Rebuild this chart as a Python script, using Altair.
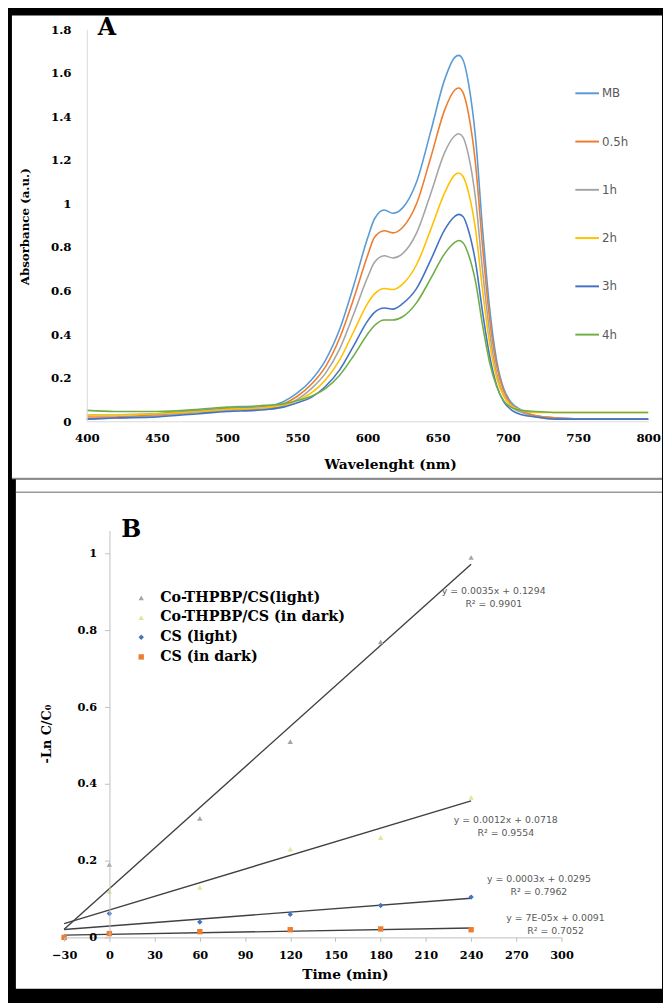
import altair as alt
import pandas as pd

SERIF = "DejaVu Serif"
SANS = "DejaVu Sans"

# ---------------- Panel A : UV-vis spectra ----------------
wavelength = [400, 420, 450, 480, 500, 520, 530, 540, 550, 560, 570, 580, 590, 600, 605, 612,
              618, 625, 635, 645, 655, 662, 665, 668, 672, 677, 682, 687, 692, 697, 702, 710,
              720, 735, 760, 800]
abs_mb = [0.03, 0.03, 0.035, 0.05, 0.06, 0.065, 0.07, 0.09, 0.13, 0.19, 0.28, 0.42, 0.62, 0.84, 0.93, 0.97,
          0.955, 0.98, 1.10, 1.33, 1.57, 1.67, 1.68, 1.66, 1.55, 1.30, 0.88, 0.52, 0.28, 0.15, 0.09, 0.05,
          0.025, 0.015, 0.01, 0.01]
abs_05h = [0.02, 0.02, 0.03, 0.045, 0.055, 0.06, 0.065, 0.08, 0.115, 0.17, 0.25, 0.38, 0.56, 0.76, 0.845, 0.875,
           0.865, 0.89, 1.00, 1.21, 1.43, 1.52, 1.53, 1.51, 1.41, 1.18, 0.80, 0.47, 0.255, 0.14, 0.08, 0.045,
           0.025, 0.015, 0.01, 0.01]
abs_1h = [0.01, 0.015, 0.025, 0.04, 0.05, 0.055, 0.06, 0.07, 0.10, 0.15, 0.22, 0.33, 0.49, 0.66, 0.73, 0.76,
          0.75, 0.77, 0.865, 1.045, 1.235, 1.31, 1.32, 1.305, 1.22, 1.02, 0.69, 0.41, 0.22, 0.12, 0.07, 0.04,
          0.02, 0.01, 0.01, 0.01]
abs_2h = [0.03, 0.03, 0.035, 0.045, 0.055, 0.06, 0.065, 0.075, 0.095, 0.13, 0.19, 0.28, 0.41, 0.54, 0.585, 0.61,
          0.605, 0.63, 0.72, 0.88, 1.05, 1.13, 1.14, 1.125, 1.05, 0.88, 0.60, 0.36, 0.20, 0.115, 0.075, 0.05,
          0.04, 0.04, 0.04, 0.04]
abs_3h = [0.01, 0.015, 0.02, 0.035, 0.045, 0.05, 0.055, 0.065, 0.085, 0.11, 0.16, 0.235, 0.345, 0.46, 0.50, 0.52,
          0.515, 0.54, 0.61, 0.74, 0.88, 0.94, 0.95, 0.94, 0.875, 0.73, 0.50, 0.30, 0.165, 0.09, 0.055, 0.03,
          0.02, 0.01, 0.01, 0.01]
abs_4h = [0.05, 0.045, 0.045, 0.055, 0.065, 0.07, 0.075, 0.08, 0.095, 0.115, 0.15, 0.21, 0.30, 0.40, 0.44, 0.465,
          0.465, 0.48, 0.545, 0.655, 0.77, 0.82, 0.83, 0.82, 0.765, 0.64, 0.44, 0.27, 0.16, 0.095, 0.065, 0.05,
          0.045, 0.04, 0.04, 0.04]
samples = ["MB", "0.5h", "1h", "2h", "3h", "4h"]
sample_colors = ["#5b9bd5", "#ed7d31", "#a5a5a5", "#ffc000", "#4472c4", "#70ad47"]
abs_ticks = [0, 0.2, 0.4, 0.6, 0.8, 1, 1.2, 1.4, 1.6, 1.8]
wl_ticks = [400, 450, 500, 550, 600, 650, 700, 750, 800]

# ---------------- Panel B : kinetics ----------------
time_min = [-30, 0, 60, 120, 180, 240]
lnc_co_light = [0, 0.19, 0.31, 0.51, 0.77, 0.99]
lnc_co_dark = [0, 0.12, 0.13, 0.23, 0.26, 0.365]
lnc_cs_light = [0, 0.062, 0.04, 0.06, 0.083, 0.105]
lnc_cs_dark = [0, 0.01, 0.015, 0.02, 0.022, 0.02]
kin_series = ["Co-THPBP/CS(light)", "Co-THPBP/CS (in dark)", "CS (light)", "CS (in dark)"]
kin_colors = ["#a5a5a5", "#e6e39a", "#4472c4", "#ed7d31"]
kin_shapes = ["triangle-up", "triangle-up", "diamond", "square"]
time_ticks = [-30, 0, 30, 60, 90, 120, 150, 180, 210, 240, 270, 300]
lnc_ticks = [0, 0.2, 0.4, 0.6, 0.8, 1]
eq_text = ["y = 0.0035x + 0.1294", "R² = 0.9901",
           "y = 0.0012x + 0.0718", "R² = 0.9554",
           "y = 0.0003x + 0.0295", "R² = 0.7962",
           "y = 7E-05x + 0.0091", "R² = 0.7052"]
eq_time = [255, 255, 263, 263, 285, 285, 296, 296]
eq_value = [0.903, 0.868, 0.307, 0.273, 0.152, 0.118, 0.05, 0.016]

# ---------------- tables ----------------
rows = []
for name, vals in zip(samples, [abs_mb, abs_05h, abs_1h, abs_2h, abs_3h, abs_4h]):
    for w, v in zip(wavelength, vals):
        rows.append({"wavelength": w, "absorbance": v, "sample": name})
dfA = pd.DataFrame(rows)

rows = []
for name, vals in zip(kin_series, [lnc_co_light, lnc_co_dark, lnc_cs_light, lnc_cs_dark]):
    for t, v in zip(time_min, vals):
        rows.append({"time": t, "value": v, "series": name})
dfB = pd.DataFrame(rows)
dfEq = pd.DataFrame({"time": eq_time, "value": eq_value, "label": eq_text})
one = pd.DataFrame({"z": [0]})

# ---------------- Panel A chart ----------------
W_A, H_A = 570, 398
bgA = alt.Chart(one).mark_rect(fill="white").encode(
    x=alt.value(-76), x2=alt.value(584), y=alt.value(-14), y2=alt.value(456))
sepA = alt.Chart(one).mark_rule(color="#8c8c8c", strokeWidth=1.5).encode(
    x=alt.value(-76), x2=alt.value(584), y=alt.value(456))
linesA = alt.Chart(dfA).mark_line(strokeWidth=1.6, interpolate="monotone").encode(
    x=alt.X("wavelength:Q", scale=alt.Scale(domain=[400, 800], nice=False, zero=False),
            axis=alt.Axis(values=wl_ticks, title="Wavelenght (nm)", grid=False, ticks=False,
                          zindex=1, domainColor="#d9d9d9", labelFlush=False, labelOverlap=False,
                          labelFont=SERIF, labelFontWeight="bold", labelFontSize=12,
                          labelColor="black", labelPadding=12,
                          titleFont=SERIF, titleFontWeight="bold", titleFontSize=14,
                          titleColor="black", titleX=308, titleY=44,
                          titleBaseline="middle", titleAlign="center")),
    y=alt.Y("absorbance:Q", scale=alt.Scale(domain=[0, 1.8], nice=False),
            axis=alt.Axis(values=abs_ticks, format="~g", title="Absorbance (a.u.)", grid=False,
                          ticks=False, zindex=1, domainColor="#d9d9d9", labelOverlap=False,
                          labelFont=SERIF, labelFontWeight="bold", labelFontSize=12,
                          labelColor="black", labelPadding=16,
                          titleFont=SERIF, titleFontWeight="bold", titleFontSize=12,
                          titleColor="black", titleX=-63, titleY=200, titleAngle=270,
                          titleBaseline="middle", titleAlign="center")),
    color=alt.Color("sample:N", scale=alt.Scale(domain=samples, range=sample_colors),
                    legend=alt.Legend(title=None, orient="none", legendX=495, legendY=52,
                                      symbolType="stroke", symbolSize=576, symbolStrokeWidth=2,
                                      labelFont=SANS, labelFontSize=12, labelColor="#595959",
                                      rowPadding=30, labelOffset=2)),
)
textA = alt.Chart(one).mark_text(text="A", font=SERIF, fontWeight="bold", fontSize=24,
                                 align="left", baseline="alphabetic", color="black").encode(
    x=alt.value(11), y=alt.value(6))
chartA = alt.layer(bgA, sepA, linesA, textA).properties(width=W_A, height=H_A)

# ---------------- Panel B chart ----------------
W_B, H_B = 482, 413
xB = alt.X("time:Q", scale=alt.Scale(domain=[-30, 300], range=[-23, 482], nice=False, zero=False),
           axis=alt.Axis(values=time_ticks, grid=False, tickSize=4, tickColor="#bfbfbf", zindex=1,
                         domainColor="#bfbfbf", labelFlush=False, labelOverlap=False,
                         labelFont=SERIF, labelFontWeight="bold", labelFontSize=11.5,
                         labelColor="black", labelPadding=8, title="Time (min)",
                         titleFont=SERIF, titleFontWeight="bold", titleFontSize=14,
                         titleColor="black", titleX=262, titleY=38,
                         titleBaseline="middle", titleAlign="center"))
yB = alt.Y("value:Q", scale=alt.Scale(domain=[0, 1.06], nice=False),
           axis=alt.Axis(values=lnc_ticks, format="~g", offset=-23, grid=False, tickSize=5,
                         zindex=1, tickColor="#bfbfbf", domainColor="#bfbfbf", labelOverlap=False,
                         labelFont=SERIF, labelFontWeight="bold", labelFontSize=11.5,
                         labelColor="black", labelPadding=8, title="-Ln C/C₀",
                         titleFont=SERIF, titleFontWeight="bold", titleFontSize=13,
                         titleColor="black", titleX=-64, titleY=206, titleAngle=270,
                         titleBaseline="middle", titleAlign="center"))
legB = alt.Legend(title=None, orient="none", legendX=48, legendY=61,
                  labelFont=SERIF, labelFontWeight="bold", labelFontSize=14.5, labelColor="black",
                  labelLimit=400, symbolSize=30, rowPadding=5, labelOffset=12)

bgB = alt.Chart(one).mark_rect(fill="white").encode(
    x=alt.value(-72), x2=alt.value(584), y=alt.value(-52), y2=alt.value(465))
sepB = alt.Chart(one).mark_rule(color="#9a9a9a", strokeWidth=1.5).encode(
    x=alt.value(-72), x2=alt.value(584), y=alt.value(-39))
trend = alt.Chart(dfB).transform_regression(
    "time", "value", groupby=["series"], extent=[-30, 240]
).mark_line(color="#404040", strokeWidth=1.4).encode(x=xB, y=yB, detail="series:N")
pts = alt.Chart(dfB).mark_point(filled=True, opacity=1).encode(
    x=xB, y=yB,
    color=alt.Color("series:N", scale=alt.Scale(domain=kin_series, range=kin_colors), legend=legB),
    shape=alt.Shape("series:N", scale=alt.Scale(domain=kin_series, range=kin_shapes), legend=legB),
    size=alt.value(30),
)
eqs = alt.Chart(dfEq).mark_text(font=SANS, fontSize=9.5, color="#595959",
                                align="center", baseline="middle").encode(
    x=alt.X("time:Q"), y=alt.Y("value:Q"), text="label:N")
textB = alt.Chart(one).mark_text(text="B", font=SERIF, fontWeight="bold", fontSize=24,
                                 align="left", baseline="alphabetic", color="black").encode(
    x=alt.value(35), y=alt.value(6))
chartB = alt.layer(bgB, sepB, trend, pts, eqs, textB).properties(width=W_B, height=H_B)

chart = alt.vconcat(chartA, chartB, spacing=0).resolve_scale(
    color="independent", shape="independent"
).resolve_legend(color="independent", shape="independent").properties(
    background="black", padding={"left": 3, "top": 0, "right": 0, "bottom": 8}
).configure_view(stroke=None)

chart.save("out.html", embed_options={"renderer": "svg", "actions": False})
